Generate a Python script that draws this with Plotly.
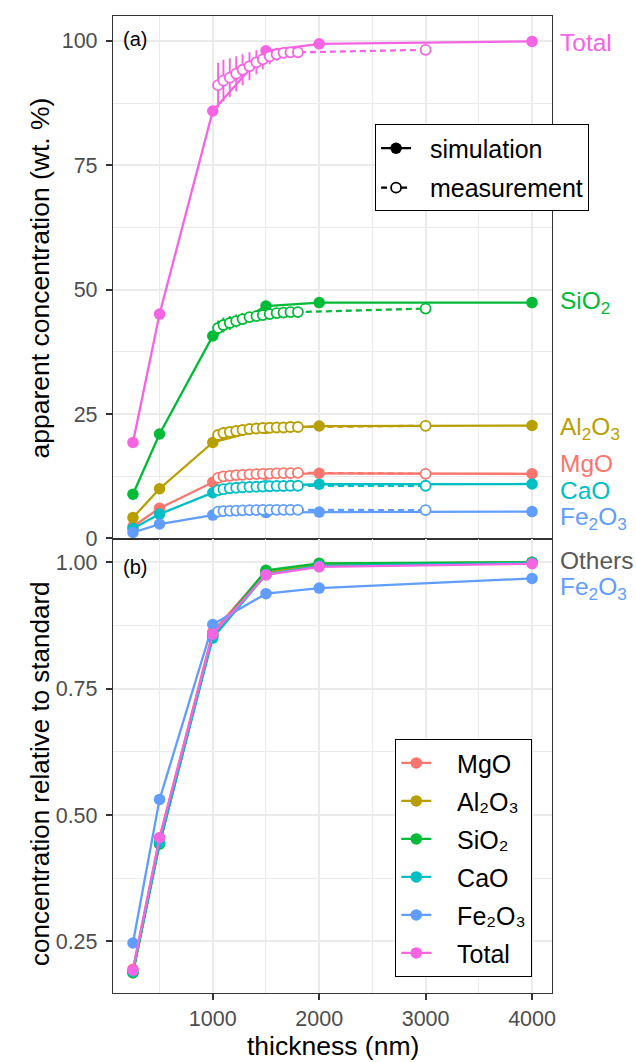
import plotly.graph_objects as go
from plotly.subplots import make_subplots

# ---------------- data ----------------
components = ["MgO", "Al2O3", "SiO2", "CaO", "Fe2O3", "Total"]
labels_html = {"MgO": "MgO", "Al2O3": "Al<sub>2</sub>O<sub>3</sub>", "SiO2": "SiO<sub>2</sub>",
               "CaO": "CaO", "Fe2O3": "Fe<sub>2</sub>O<sub>3</sub>", "Total": "Total", "Others": "Others"}
labels_uni = {"MgO": "MgO", "Al2O3": "Al\u2082O\u2083", "SiO2": "SiO\u2082",
              "CaO": "CaO", "Fe2O3": "Fe\u2082O\u2083", "Total": "Total"}
colors = {"MgO": "#F8766D", "Al2O3": "#B79F00", "SiO2": "#00BA38",
          "CaO": "#00BFC4", "Fe2O3": "#619CFF", "Total": "#F564E3", "Others": "#595959"}

thickness_sim = [250, 500, 1000, 1500, 2000, 4000]
sim_MgO = [2.4, 6.1, 11.3, 12.9, 13.1, 13.0]
sim_Al2O3 = [4.2, 10.0, 19.3, 22.1, 22.6, 22.7]
sim_SiO2 = [8.9, 21.0, 40.7, 46.7, 47.4, 47.4]
sim_CaO = [2.0, 4.9, 9.2, 10.6, 10.9, 10.95]
sim_Fe2O3 = [1.2, 2.9, 4.7, 5.2, 5.3, 5.4]
sim_Total = [19.3, 45.1, 85.9, 98.0, 99.4, 99.9]

thickness_meas = [1050, 1100, 1160, 1220, 1280, 1345, 1410, 1470, 1535, 1600, 1665, 1730, 1800, 3000]
meas_MgO = [12.2, 12.5, 12.6, 12.75, 12.8, 12.9, 12.95, 13.0, 13.05, 13.1, 13.15, 13.15, 13.2, 13.0]
meas_Al2O3 = [20.8, 21.2, 21.4, 21.6, 21.8, 22.0, 22.1, 22.2, 22.25, 22.3, 22.3, 22.4, 22.4, 22.65]
meas_SiO2 = [42.3, 42.9, 43.3, 43.7, 44.1, 44.5, 44.7, 44.9, 45.1, 45.3, 45.4, 45.5, 45.5, 46.2]
meas_CaO = [9.7, 9.9, 10.1, 10.2, 10.3, 10.35, 10.4, 10.45, 10.5, 10.55, 10.55, 10.6, 10.6, 10.6]
meas_Fe2O3 = [5.4, 5.5, 5.55, 5.6, 5.65, 5.7, 5.7, 5.75, 5.75, 5.75, 5.75, 5.75, 5.75, 5.7]
meas_Total = [91.1, 92.0, 92.6, 93.4, 94.2, 94.9, 95.7, 96.3, 96.9, 97.3, 97.6, 97.7, 97.7, 98.2]

err_MgO = [0.4, 0.4, 0.3, 0.3, 0.3, 0.3, 0.2, 0.2, 0.2, 0.2, 0.2, 0.2, 0.2, 0.2]
err_Al2O3 = [0.6, 0.6, 0.5, 0.5, 0.4, 0.4, 0.3, 0.3, 0.3, 0.2, 0.2, 0.2, 0.2, 0.2]
err_SiO2 = [1.5, 1.5, 1.4, 1.3, 1.2, 1.0, 0.8, 0.6, 0.5, 0.4, 0.3, 0.3, 0.2, 0.2]
err_CaO = [0.4, 0.4, 0.3, 0.3, 0.3, 0.3, 0.2, 0.2, 0.2, 0.2, 0.2, 0.2, 0.2, 0.2]
err_Fe2O3 = [0.3, 0.3, 0.3, 0.2, 0.2, 0.2, 0.2, 0.2, 0.2, 0.2, 0.2, 0.2, 0.2, 0.2]
err_Total = [4.5, 4.2, 3.9, 3.5, 3.1, 2.8, 2.4, 2.0, 1.6, 1.3, 1.0, 0.8, 0.6, 0.5]

rel_MgO = [0.195, 0.455, 0.862, 0.982, 0.996, 1.000]
rel_Al2O3 = [0.188, 0.443, 0.856, 0.980, 0.997, 1.000]
rel_SiO2 = [0.188, 0.443, 0.855, 0.984, 0.998, 1.000]
rel_CaO = [0.190, 0.445, 0.850, 0.976, 0.993, 0.999]
rel_Fe2O3 = [0.247, 0.531, 0.877, 0.938, 0.949, 0.968]
rel_Total = [0.193, 0.455, 0.858, 0.975, 0.991, 0.997]

sim = {"MgO": sim_MgO, "Al2O3": sim_Al2O3, "SiO2": sim_SiO2, "CaO": sim_CaO, "Fe2O3": sim_Fe2O3, "Total": sim_Total}
meas = {"MgO": meas_MgO, "Al2O3": meas_Al2O3, "SiO2": meas_SiO2, "CaO": meas_CaO, "Fe2O3": meas_Fe2O3, "Total": meas_Total}
err = {"MgO": err_MgO, "Al2O3": err_Al2O3, "SiO2": err_SiO2, "CaO": err_CaO, "Fe2O3": err_Fe2O3, "Total": err_Total}
rel = {"MgO": rel_MgO, "Al2O3": rel_Al2O3, "SiO2": rel_SiO2, "CaO": rel_CaO, "Fe2O3": rel_Fe2O3, "Total": rel_Total}

# end labels (panel a / panel b)
end_labels_a = [("Total", 99.6), ("SiO2", 47.4), ("Al2O3", 22.2), ("MgO", 15.0), ("CaO", 9.6), ("Fe2O3", 4.1)]
end_labels_b = [("Others", 1.003), ("Fe2O3", 0.949)]

FONT = "Liberation Sans, Arial, Helvetica, sans-serif"
NB = "\u00a0"

fig = make_subplots(rows=2, cols=1, shared_xaxes=True, vertical_spacing=0,
                    row_heights=[0.5356, 0.4644])

LW = 2.3
DASH = "6px,4px"
for c in components:
    col = colors[c]
    fig.add_trace(go.Scatter(x=thickness_sim, y=sim[c], mode="lines+markers",
                             line=dict(color=col, width=LW),
                             marker=dict(color=col, size=11.5),
                             showlegend=False), row=1, col=1)
for c in components:
    col = colors[c]
    fig.add_trace(go.Scatter(x=thickness_meas, y=meas[c], mode="lines+markers",
                             line=dict(color=col, width=LW, dash=DASH),
                             marker=dict(color="white", size=10, line=dict(color=col, width=1.8)),
                             error_y=dict(type="data", array=err[c], color=col, thickness=1.9, width=0),
                             showlegend=False), row=1, col=1)

for i, c in enumerate(components):
    col = colors[c]
    fig.add_trace(go.Scatter(x=thickness_sim, y=rel[c], mode="lines+markers",
                             name=NB * 3 + labels_uni[c],
                             line=dict(color=col, width=LW),
                             marker=dict(color=col, size=11.5),
                             legend="legend2", legendgroup="g%d" % i,
                             showlegend=True), row=2, col=1)

# legend-only entries for panel (a)
fig.add_trace(go.Scatter(x=[None], y=[None], mode="lines+markers", name=NB * 2 + "simulation",
                         line=dict(color="black", width=LW),
                         marker=dict(color="black", size=11.5),
                         legend="legend", legendgroup="s"), row=1, col=1)
fig.add_trace(go.Scatter(x=[None], y=[None], mode="lines+markers", name=NB * 2 + "measurement",
                         line=dict(color="black", width=LW, dash=DASH),
                         marker=dict(color="white", size=10, line=dict(color="black", width=1.8)),
                         legend="legend", legendgroup="m"), row=1, col=1)

grid_major = dict(showgrid=True, gridcolor="#EBEBEB", gridwidth=1.6)
axis_line = dict(showline=True, linecolor="#333333", linewidth=1.3, mirror=True)
tickfont = dict(family=FONT, size=21.5, color="#4D4D4D")

fig.update_xaxes(range=[62.5, 4187.5], tick0=0, dtick=1000, **grid_major, **axis_line,
                 minor=dict(dtick=500, tick0=0, showgrid=True, gridcolor="#EBEBEB", gridwidth=0.8),
                 zeroline=False)
fig.update_xaxes(ticks="", showticklabels=False, row=1, col=1)
fig.update_xaxes(ticks="outside", ticklen=6, tickwidth=1.6, tickcolor="#333333",
                 tickfont=tickfont, row=2, col=1)

fig.update_yaxes(range=[-0.16, 105.0], tick0=0, dtick=25, **grid_major, **axis_line,
                 minor=dict(dtick=12.5, tick0=0, showgrid=True, gridcolor="#EBEBEB", gridwidth=0.8),
                 ticks="outside", ticklen=6, tickwidth=1.6, tickcolor="#333333",
                 tickfont=tickfont, ticklabelstandoff=4, zeroline=False, row=1, col=1)
fig.update_yaxes(range=[0.148, 1.0455], tick0=0, dtick=0.25, tickformat=".2f", **grid_major, **axis_line,
                 minor=dict(dtick=0.125, tick0=0, showgrid=True, gridcolor="#EBEBEB", gridwidth=0.8),
                 ticks="outside", ticklen=6, tickwidth=1.6, tickcolor="#333333",
                 tickfont=tickfont, ticklabelstandoff=4, zeroline=False, row=2, col=1)

annotations = [
    dict(text="(a)", x=0.019, y=0.9761, xref="paper", yref="paper", xanchor="left", yanchor="middle",
         showarrow=False, font=dict(family=FONT, size=20, color="black")),
    dict(text="(b)", x=0.019, y=0.4358, xref="paper", yref="paper", xanchor="left", yanchor="middle",
         showarrow=False, font=dict(family=FONT, size=20, color="black")),
    dict(text="apparent concentration (wt. %)", x=-0.1663, y=0.7324, xref="paper", yref="paper",
         textangle=-90, xanchor="center", yanchor="middle", showarrow=False,
         font=dict(family=FONT, size=26.5, color="black")),
    dict(text="concentration relative to standard", x=-0.1663, y=0.2242, xref="paper", yref="paper",
         textangle=-90, xanchor="center", yanchor="middle", showarrow=False,
         font=dict(family=FONT, size=26, color="black")),
    dict(text="thickness (nm)", x=0.5, y=-0.0542, xref="paper", yref="paper",
         xanchor="center", yanchor="middle", showarrow=False,
         font=dict(family=FONT, size=26.5, color="black")),
]
for c, yv in end_labels_a:
    annotations.append(dict(text=labels_html[c], x=1.013, y=yv, xref="paper", yref="y",
                            xanchor="left", yanchor="middle", showarrow=False,
                            font=dict(family=FONT, size=24.5, color=colors[c])))
for c, yv in end_labels_b:
    annotations.append(dict(text=labels_html[c], x=1.013, y=yv, xref="paper", yref="y2",
                            xanchor="left", yanchor="middle", showarrow=False,
                            font=dict(family=FONT, size=24.5, color=colors[c])))

fig.update_layout(
    width=636, height=1062,
    margin=dict(l=113, r=84, t=16, b=69),
    plot_bgcolor="white", paper_bgcolor="white",
    font=dict(family=FONT, color="black"),
    annotations=annotations,
    legend=dict(x=0.597, y=0.889, xanchor="left", yanchor="top", bgcolor="white",
                bordercolor="black", borderwidth=1, font=dict(family=FONT, size=25, color="black"),
                tracegroupgap=4),
    legend2=dict(x=0.643, y=0.2598, xanchor="left", yanchor="top", bgcolor="white",
                 bordercolor="black", borderwidth=1, font=dict(family=FONT, size=25, color="black"),
                 tracegroupgap=2.5),
)

fig.write_html("out.html", config={"displayModeBar": False},
               post_script="document.body.style.margin='0';document.body.style.overflow='hidden';")
